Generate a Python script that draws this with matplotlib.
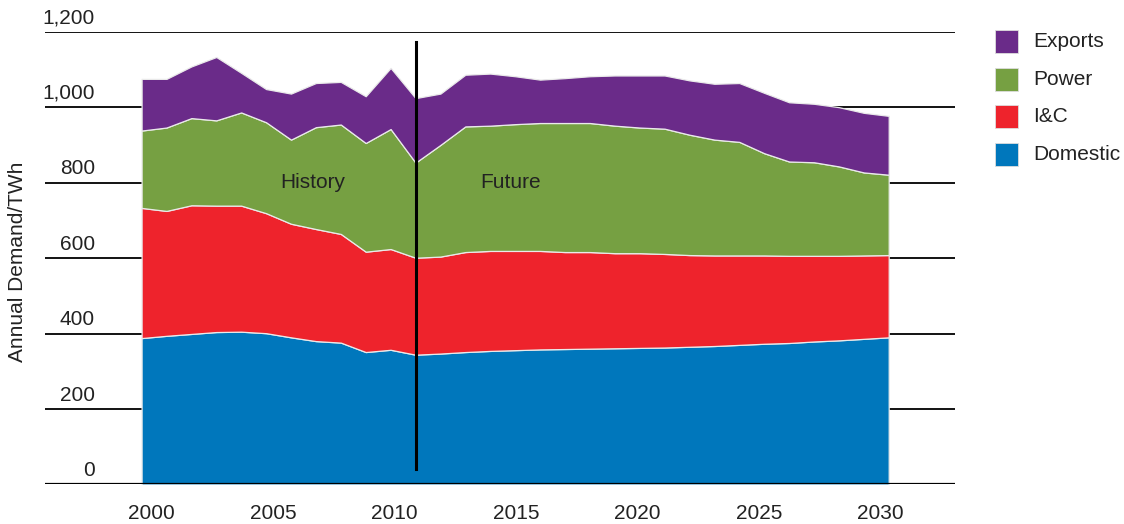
import matplotlib.pyplot as plt
from matplotlib.patches import Rectangle
import numpy as np

plt.rcParams['font.family'] = ['Liberation Sans', 'DejaVu Sans']

# data (TWh)
years = list(range(2000, 2031))
domestic = [388, 394, 399, 404, 405, 401, 390, 380, 376, 351, 357, 344,
            347, 351, 354, 356, 358, 359, 360, 361, 362, 363, 365, 367,
            370, 373, 375, 379, 382, 386, 390]
ic = [345, 331, 341, 335, 334, 318, 301, 297, 288, 266, 267, 257,
      257, 265, 265, 263, 261, 257, 256, 252, 251, 248, 243, 240,
      237, 234, 231, 227, 224, 221, 218]
power = [205, 221, 231, 226, 247, 241, 223, 270, 290, 288, 318, 252,
         296, 333, 332, 336, 339, 342, 342, 338, 333, 332, 319, 307,
         301, 271, 250, 248, 237, 220, 213]
exports = [137, 129, 137, 168, 105, 88, 122, 117, 113, 124, 162, 171,
           136, 137, 138, 127, 115, 119, 124, 133, 138, 141, 144, 148,
           156, 160, 157, 155, 157, 158, 156]

series_names = ['Domestic', 'I&C', 'Power', 'Exports']
colors = ['#0077BC', '#EE232C', '#76A042', '#6A2B89']
y_ticks = [0, 200, 400, 600, 800, 1000, 1200]
x_tick_years = [2000, 2005, 2010, 2015, 2020, 2025, 2030]
split_year = 2011

fs = 15
txt_col = '#222222'

fig = plt.figure(figsize=(11.24, 5.24), dpi=100)
ax = fig.add_axes([0.04, 0.0754, 0.8096, 0.8641])

ax.stackplot(years, domestic, ic, power, exports, colors=colors,
             edgecolor='#EAEAEA', linewidth=0.9, zorder=2)

# horizontal rules with labels sitting above them
for v in y_ticks:
    ax.axhline(v, color='black', lw=1.3 if v else 1.6, zorder=1 if v else 3)
    ax.annotate(f'{v:,}', xy=(0.055, v), xycoords=ax.get_yaxis_transform(),
                xytext=(0, 10), textcoords='offset points',
                ha='right', va='center', fontsize=fs, color=txt_col)

# history / future split
ax.plot([split_year, split_year], [40, 1172], color='black', lw=2.2, zorder=4)
ax.text(2006.88, 800, 'History', ha='center', va='center', fontsize=fs, color=txt_col, zorder=5)
ax.text(2014.83, 800, 'Future', ha='center', va='center', fontsize=fs, color=txt_col, zorder=5)

ax.set_xlim(1996.12, 2032.66)
ax.set_ylim(0, 1200)
tick_pos = [2000.4 + (y - 2000) * 0.976 for y in x_tick_years]
ax.set_xticks(tick_pos)
ax.set_xticklabels([str(y) for y in x_tick_years], fontsize=fs, color=txt_col)
ax.tick_params(axis='x', length=0, pad=14)
ax.set_yticks([])
for s in ax.spines.values():
    s.set_visible(False)

fig.text(18 / 1124, 1 - 262 / 524, 'Annual Demand/TWh', rotation=90,
         ha='center', va='center', fontsize=fs, color=txt_col)

# legend, top entry is the top layer
for i, (name, col) in enumerate(zip(series_names[::-1], colors[::-1])):
    yc = 41.7 + i * 37.5
    fig.patches.append(Rectangle((995 / 1124, 1 - (yc + 11.5) / 524), 23 / 1124, 23 / 524,
                                 transform=fig.transFigure, facecolor=col,
                                 edgecolor='#DDDDDD', lw=0.6))
    fig.text(1033 / 1124, 1 - yc / 524, name, ha='left', va='center',
             fontsize=fs, color=txt_col)

plt.savefig('out.png', dpi=100)
